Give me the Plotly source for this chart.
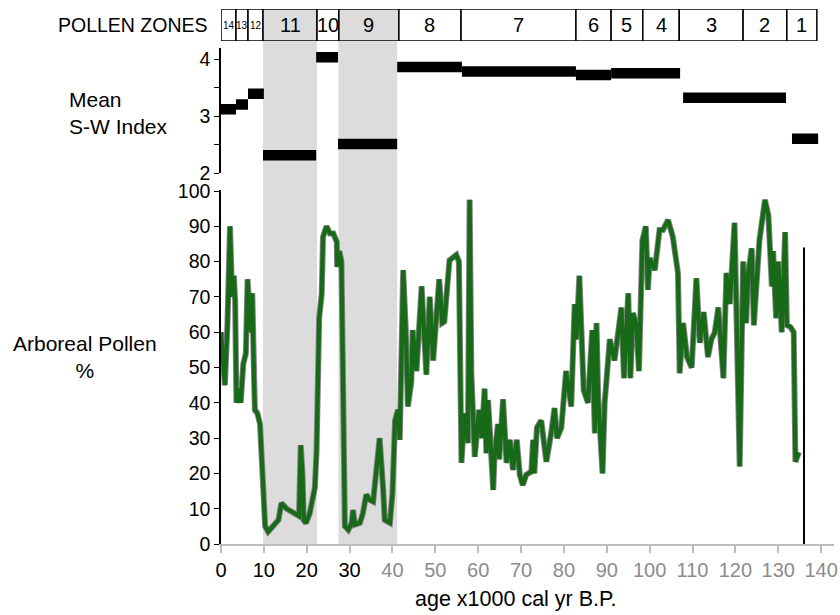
import plotly.graph_objects as go

W, H = 840, 615
FONT = "Liberation Sans, Arial, Helvetica, sans-serif"

# ---------------- data ----------------
zone_labels = ["14", "13", "12", "11", "10", "9", "8", "7", "6", "5", "4", "3", "2", "1"]
zone_start = [0.0, 3.5, 6.3, 9.8, 22.4, 27.5, 41.5, 56.0, 82.8, 91.0, 98.4, 106.9, 121.8, 132.0]
zone_end = [3.5, 6.3, 9.8, 22.4, 27.5, 41.5, 56.0, 82.8, 91.0, 98.4, 106.9, 121.8, 132.0, 139.0]
zone_shaded = ["11", "9"]

sw_start = [0.0, 3.5, 6.3, 9.8, 22.2, 27.3, 41.1, 56.2, 82.8, 91.0, 107.8, 133.2]
sw_end = [3.5, 6.3, 10.0, 22.2, 27.3, 41.1, 56.2, 82.8, 91.0, 107.1, 131.8, 139.3]
sw_index = [3.12, 3.20, 3.39, 2.31, 4.03, 2.51, 3.86, 3.78, 3.72, 3.75, 3.32, 2.60]

shade_start = [9.8, 27.4]
shade_end = [22.4, 41.1]

age = [0.0, 0.5, 0.9, 1.5, 2.1, 2.6, 3.0, 3.3, 3.6, 4.2, 4.6, 5.2, 5.8, 6.2, 6.6, 7.0, 7.3, 7.7,
       7.9, 8.5, 9.1, 10.3, 11.0, 13.4, 14.1, 15.3, 17.6, 18.2, 18.6, 19.0, 19.3, 19.8, 20.7,
       21.9, 22.3, 22.7, 22.9, 23.5, 23.8, 24.6, 25.4, 26.2, 27.0, 27.1, 27.6, 28.1, 28.9, 29.7,
       30.5, 30.8, 31.2, 32.4, 33.1, 33.9, 34.7, 35.5, 36.3, 37.0, 37.8, 38.2, 39.4, 40.0, 40.6,
       41.3, 41.7, 42.5, 43.1, 43.6, 44.4, 44.7, 45.6, 46.8, 47.9, 48.7, 49.5, 50.9, 51.6, 52.1,
       53.3, 54.9, 55.5, 56.1, 56.8, 57.6, 58.0, 58.4, 59.2, 60.2, 60.8, 61.5, 61.9, 62.3, 63.5,
       63.8, 64.6, 64.9, 65.8, 66.6, 67.4, 68.1, 69.0, 69.7, 70.4, 71.2, 72.4, 72.8, 73.1, 73.7,
       74.7, 75.2, 75.9, 77.1, 77.8, 78.4, 79.4, 80.5, 81.7, 82.5, 82.9, 83.6, 84.4, 84.6, 85.6,
       86.6, 87.2, 87.6, 88.0, 89.0, 89.5, 90.7, 91.8, 92.6, 93.4, 94.0, 95.0, 95.5, 96.1, 96.9,
       97.5, 98.3, 99.1, 99.6, 100.0, 101.2, 102.3, 103.1, 104.3, 105.4, 106.6, 107.0, 107.8,
       108.7, 109.8, 110.9, 111.7, 112.6, 113.6, 114.4, 115.2, 116.0, 117.2, 117.9, 118.7, 119.8,
       121.0, 121.8, 122.5, 123.0, 123.8, 124.3, 125.0, 125.6, 126.9, 127.7, 128.5, 128.8, 129.5,
       130.0, 130.8, 131.6, 132.0, 132.8, 133.6, 134.0, 134.8]
arboreal = [60, 52, 45, 62, 90, 70, 76, 69, 40, 44, 40, 51, 54, 75, 64, 60, 71, 46,
            38, 37, 34, 5, 3.5, 6.8, 11.6, 10, 8.2, 7.9, 28, 20, 6.8, 5.9, 8.7,
            16, 26.6, 52, 64, 71, 87, 90, 88, 88, 85.6, 78.5, 83, 80, 5, 4,
            6, 9.6, 5.5, 6, 8.7, 14, 12.5, 12, 22, 30, 16, 6.8, 6, 14.4, 35,
            38, 29.5, 77.6, 60.6, 39, 46, 60.6, 49, 73, 48, 70, 52, 75, 62.6, 63,
            80.4, 81.9, 80, 23, 37, 28.6, 97.5, 48.4, 24.7, 38, 30, 44, 25.7, 40.8, 15.3,
            24.7, 34, 24, 41, 23, 29.5, 21, 29.5, 19.6, 16.7, 19.6, 20.5, 29.5, 20, 33,
            35, 30, 23.3, 32, 38.5, 30, 33, 49, 39, 68, 58, 76, 49, 43.6, 40,
            60.6, 31.4, 62.6, 41, 20, 40, 58, 52, 60, 67, 47, 71, 47, 65.4, 62,
            49, 86, 90, 72, 81, 77.6, 89, 89, 91.8, 87, 76.8, 48.4, 62.6,
            53, 50, 75.3, 57, 65.7, 53, 58, 60, 67, 47, 76.8, 68, 91,
            22, 80, 62.6, 76.8, 83.8, 62, 77, 86, 97.5, 93, 73, 83, 64,
            80, 60, 88.4, 62, 61.5, 60, 23.3, 26]

marker_age = 136.0
marker_top = 84.0

x_ticks = list(range(0, 141, 10))
x_dark_until = 30
y_ticks = list(range(0, 101, 10))
sw_ticks = [2, 2.5, 3, 3.5, 4]
sw_ticktext = ["2", "", "3", "", "4"]


# ---------------- geometry helpers ----------------
def px(x):
    return x / W


def py(y):
    return 1 - y / H


fig = go.Figure()

# pollen zone boxes
zone_colors = ["#dcdcdc" if z in zone_shaded else "white" for z in zone_labels]
fig.add_trace(go.Bar(
    orientation="h", y=[0.5] * len(zone_labels),
    x=[e - s for s, e in zip(zone_start, zone_end)], base=zone_start,
    width=1, marker=dict(color=zone_colors, line=dict(color="black", width=1.5)),
    xaxis="x", yaxis="y3", hoverinfo="skip", showlegend=False))

# mean S-W index bars
fig.add_trace(go.Bar(
    orientation="h", y=sw_index,
    x=[e - s for s, e in zip(sw_start, sw_end)], base=sw_start,
    width=0.185, marker=dict(color="black", line=dict(width=0)),
    xaxis="x", yaxis="y2", hoverinfo="skip", showlegend=False))

# arboreal pollen curve (grey shadow + green line)
fig.add_trace(go.Scatter(
    x=age, y=arboreal, mode="lines",
    line=dict(color="rgba(120,120,120,0.9)", width=6),
    xaxis="x", yaxis="y", hoverinfo="skip", showlegend=False))
fig.add_trace(go.Scatter(
    x=age, y=arboreal, mode="lines",
    line=dict(color="#176a17", width=4.2),
    xaxis="x", yaxis="y", showlegend=False))

# vertical marker line
fig.add_trace(go.Scatter(
    x=[marker_age, marker_age], y=[0, marker_top], mode="lines",
    line=dict(color="black", width=2),
    xaxis="x", yaxis="y", hoverinfo="skip", showlegend=False))

# grey shading
shapes = []
for s, e in zip(shade_start, shade_end):
    shapes.append(dict(type="rect", xref="x", yref="paper", x0=s, x1=e,
                       y0=py(544), y1=py(41), fillcolor="#dcdcdc",
                       line=dict(width=0), layer="below"))

# zone labels
annotations = []
for lab, s, e in zip(zone_labels, zone_start, zone_end):
    small = len(lab) == 2 and lab not in ("11", "10")
    annotations.append(dict(
        x=(s + e) / 2, y=0.5, xref="x", yref="y3", text=lab, showarrow=False,
        font=dict(family=FONT, size=10 if small else 20, color="black")))

annotations += [
    dict(x=px(210), y=py(25), xref="paper", yref="paper", text="POLLEN ZONES",
         showarrow=False, xanchor="right", yanchor="middle",
         font=dict(family=FONT, size=19.5, color="black")),
    dict(x=px(67), y=py(113), xref="paper", yref="paper",
         text="Mean<br>S-W Index", align="left", showarrow=False,
         xanchor="left", yanchor="middle",
         font=dict(family=FONT, size=21, color="black")),
    dict(x=px(85), y=py(357), xref="paper", yref="paper",
         text="Arboreal Pollen<br>%", align="center", showarrow=False,
         xanchor="center", yanchor="middle",
         font=dict(family=FONT, size=21, color="black")),
    dict(x=px(516), y=py(599), xref="paper", yref="paper",
         text="age x1000 cal yr B.P.", showarrow=False,
         xanchor="center", yanchor="middle",
         font=dict(family=FONT, size=21.5, color="black")),
]

x_ticktext = [str(t) if t <= x_dark_until else '<span style="color:#8c8c8c">%d</span>' % t
              for t in x_ticks]

fig.update_layout(
    width=W, height=H,
    margin=dict(l=0, r=0, t=0, b=0, autoexpand=False),
    paper_bgcolor="white", plot_bgcolor="rgba(0,0,0,0)",
    barmode="overlay", showlegend=False,
    font=dict(family=FONT, size=20, color="black"),
    shapes=shapes, annotations=annotations,
    xaxis=dict(domain=[px(221), px(834)], range=[0, 143], anchor="y", automargin=False,
               tickvals=x_ticks, ticktext=x_ticktext, ticks="outside", ticklen=7,
               tickcolor="#bdbdbd", tickwidth=1.5, showline=True, linecolor="#bdbdbd",
               linewidth=2, showgrid=False, zeroline=False, ticklabelstandoff=0,
               tickfont=dict(family=FONT, size=20, color="black")),
    yaxis=dict(domain=[py(544), py(190)], range=[0, 100.3], anchor="x", automargin=False,
               tickvals=y_ticks, ticks="outside", ticklen=5, tickcolor="black",
               showline=True, linecolor="black", linewidth=1.5, showgrid=False,
               zeroline=False, tickfont=dict(family=FONT, size=19.5, color="black")),
    yaxis2=dict(domain=[py(173), py(47.6)], range=[2, 4.2], anchor="x", automargin=False,
                tickvals=sw_ticks, ticktext=sw_ticktext, ticks="outside", ticklen=5,
                tickcolor="black", showline=True, linecolor="black", linewidth=1.5,
                showgrid=False, zeroline=False,
                tickfont=dict(family=FONT, size=19.5, color="black")),
    yaxis3=dict(domain=[py(41), py(9)], range=[0, 1], anchor="x", visible=False,
                automargin=False, fixedrange=True),
)

fig.write_html("out.html")
